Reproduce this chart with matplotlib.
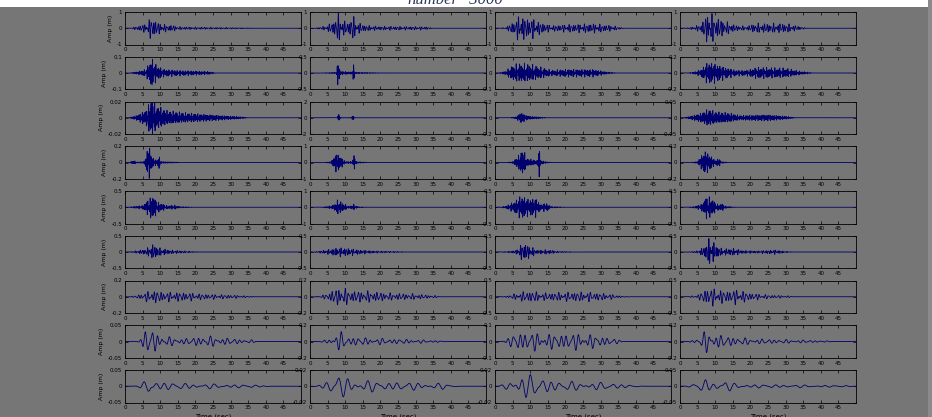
import numpy as np
import matplotlib
matplotlib.use("Agg")
import matplotlib.pyplot as plt
from matplotlib.patches import Rectangle

# y-axis half ranges (m), one row per station group, four components across
YLIMS = [
    [1, 1, 1, 1],
    [0.1, 0.5, 0.1, 0.2],
    [0.02, 2, 0.2, 0.05],
    [0.2, 1, 0.5, 0.2],
    [0.5, 1, 0.5, 0.5],
    [0.5, 0.5, 0.5, 0.5],
    [0.2, 0.2, 0.5, 0.5],
    [0.05, 0.2, 0.1, 0.2],
    [0.05, 0.02, 0.02, 0.05],
]
YTICK_TEXT = {1: "1", 0.5: "0.5", 0.2: "0.2", 0.1: "0.1", 0.05: "0.05",
              0.02: "0.02", 2: "2"}

# dominant frequency of each row (Hz)
ROW_FREQ = [1.6, 3.0, 4.0, 4.0, 3.0, 2.0, 1.1, 0.6, 0.35]

# envelope knots (time s, amplitude m) for each trace
ROW1_ENV = [
    [(1, 0), (3, 0.08), (6, 0.25), (7.5, 0.6), (9, 0.35), (11, 0.2), (14, 0.15), (15, 0.08), (25, 0.05), (35, 0.02), (38, 0)],
    [(1, 0), (4, 0.1), (6.5, 0.3), (8, 0.8), (9.5, 0.4), (11, 0.3), (12, 0.7), (13.5, 0.3), (16, 0.15), (20, 0.1), (25, 0.1), (33, 0.08), (35, 0)],
    [(1, 0), (3, 0.05), (5, 0.3), (7, 0.7), (9, 0.55), (11, 0.5), (13, 0.3), (16, 0.15), (20, 0.2), (28, 0.25), (33, 0.15), (37, 0)],
    [(1, 0), (3, 0.05), (6, 0.2), (8, 0.9), (10, 0.6), (13, 0.35), (16, 0.15), (19, 0.1), (21, 0.25), (30, 0.25), (34, 0.1), (36, 0)],
]
ROW2_ENV = [
    [(1, 0), (3, 0.005), (6, 0.02), (7.5, 0.08), (9, 0.04), (11, 0.02), (15, 0.015), (24, 0.008), (26, 0)],
    [(1, 0), (4, 0.005), (7.5, 0.02), (8, 0.4), (8.6, 0.05), (11.8, 0.03), (12.2, 0.3), (12.8, 0.02), (20, 0.005), (30, 0)],
    [(1, 0), (3, 0.01), (5, 0.04), (7, 0.05), (10, 0.045), (13, 0.03), (16, 0.015), (20, 0.02), (28, 0.02), (32, 0.005), (35, 0)],
    [(2, 0), (4, 0.01), (6, 0.04), (8, 0.12), (10, 0.1), (13, 0.06), (16, 0.03), (19, 0.03), (22, 0.06), (30, 0.05), (34, 0.02), (38, 0)],
]
ROW3_ENV = [
    [(1, 0), (3, 0.002), (6, 0.008), (7.5, 0.02), (9, 0.012), (12, 0.007), (17, 0.005), (25, 0.003), (33, 0.001), (35, 0)],
    [(5, 0), (7.8, 0.02), (8.1, 0.6), (8.6, 0.02), (11.8, 0.02), (12.1, 0.35), (12.6, 0.01), (15, 0)],
    [(4, 0), (6, 0.01), (7.5, 0.06), (8.5, 0.03), (10, 0.015), (12, 0.01), (15, 0)],
    [(1, 0), (3, 0.004), (6, 0.012), (8, 0.022), (10, 0.015), (14, 0.012), (17, 0.006), (25, 0.008), (30, 0.004), (33, 0)],
]
ROW4_ENV = [
    [(1, 0), (2.5, 0.02), (3.5, 0.005), (5.5, 0.01), (6.8, 0.18), (7.8, 0.05), (9.2, 0.02), (9.6, 0.08), (10.2, 0.01), (15, 0.003), (16, 0)],
    [(4, 0), (6, 0.05), (7.5, 0.5), (9, 0.25), (10, 0.05), (12, 0.05), (12.5, 0.4), (13.2, 0.05), (16, 0.01), (18, 0)],
    [(3, 0), (5, 0.02), (6.5, 0.15), (8, 0.35), (9, 0.1), (12, 0.05), (12.5, 0.45), (13, 0.05), (15, 0.01), (17, 0)],
    [(3, 0), (5, 0.01), (7, 0.12), (8.5, 0.08), (10, 0.02), (11, 0.05), (11.6, 0.01), (14, 0)],
]
ROW5_ENV = [
    [(1, 0), (3, 0.03), (5, 0.05), (6.5, 0.2), (8, 0.35), (9, 0.15), (10.5, 0.1), (12, 0.04), (14, 0.06), (15.5, 0.02), (19, 0.005), (20, 0)],
    [(2, 0), (4, 0.02), (6.5, 0.1), (8, 0.4), (9.5, 0.2), (11, 0.05), (12.5, 0.15), (13.5, 0.03), (17, 0)],
    [(1, 0), (3, 0.03), (5.5, 0.15), (7.5, 0.32), (9.5, 0.22), (11.5, 0.25), (13, 0.08), (14.5, 0.12), (16, 0.02), (19, 0.01), (20, 0)],
    [(2, 0), (4, 0.02), (6, 0.08), (7.5, 0.3), (9, 0.25), (10.5, 0.08), (12, 0.1), (13, 0.03), (16, 0)],
]
ROW6_ENV = [
    [(1, 0), (3, 0.03), (6, 0.08), (8, 0.2), (10, 0.1), (13, 0.05), (18, 0.02), (22, 0)],
    [(1, 0), (3, 0.03), (5, 0.06), (8, 0.12), (11, 0.1), (14, 0.06), (18, 0.03), (25, 0.015), (28, 0)],
    [(1, 0), (4, 0.02), (6, 0.05), (8, 0.25), (10, 0.15), (12, 0.05), (15, 0.06), (18, 0.02), (24, 0)],
    [(2, 0), (5, 0.03), (7, 0.15), (8.5, 0.38), (10, 0.2), (12, 0.08), (15, 0.1), (18, 0.04), (22, 0.03), (27, 0.06), (30, 0.02), (33, 0)],
]
ROW7_ENV = [
    [(1, 0), (3, 0.01), (6, 0.05), (8, 0.07), (11, 0.05), (16, 0.05), (22, 0.03), (30, 0.02), (36, 0.005), (38, 0)],
    [(1, 0), (4, 0.02), (7, 0.08), (9, 0.1), (12, 0.06), (17, 0.06), (22, 0.04), (30, 0.03), (36, 0.01), (38, 0)],
    [(1, 0), (4, 0.03), (7, 0.12), (10, 0.15), (14, 0.1), (20, 0.12), (26, 0.13), (32, 0.08), (36, 0.02), (38, 0)],
    [(2, 0), (5, 0.05), (8, 0.25), (10, 0.22), (13, 0.15), (16, 0.2), (20, 0.1), (25, 0.05), (30, 0.03), (33, 0)],
]
ROW8_ENV = [
    [(2, 0), (4, 0.004), (6, 0.032), (8, 0.032), (10, 0.016), (14, 0.01), (18, 0.008), (22, 0.015), (25, 0.013), (30, 0.008), (36, 0.004), (38, 0)],
    [(2, 0), (5, 0.02), (7, 0.08), (9, 0.1), (11, 0.05), (15, 0.04), (22, 0.03), (30, 0.02), (36, 0.01), (40, 0)],
    [(1, 0), (4, 0.02), (6, 0.05), (10, 0.05), (16, 0.04), (24, 0.045), (30, 0.03), (35, 0.01), (38, 0)],
    [(2, 0), (5, 0.03), (7.5, 0.12), (9, 0.1), (12, 0.06), (15, 0.05), (20, 0.03), (30, 0.02), (40, 0.01), (45, 0)],
]
ROW9_ENV = [
    [(2, 0), (4, 0.003), (6, 0.015), (7, 0.03), (9, 0.015), (12, 0.01), (16, 0.008), (25, 0.006), (35, 0.004), (40, 0.002), (42, 0)],
    [(1, 0), (3, 0.002), (6, 0.008), (8, 0.013), (10, 0.01), (14, 0.007), (20, 0.005), (30, 0.004), (38, 0.003), (42, 0)],
    [(1, 0), (3, 0.003), (5.5, 0.01), (7.5, 0.017), (10, 0.012), (14, 0.008), (20, 0.005), (30, 0.004), (38, 0.002), (42, 0)],
    [(1, 0), (3, 0.003), (6, 0.015), (7.5, 0.02), (9, 0.01), (12.5, 0.018), (15, 0.008), (20, 0.005), (30, 0.004), (40, 0.003), (45, 0.002), (49, 0.002)],
]
ENVS = [ROW1_ENV, ROW2_ENV, ROW3_ENV, ROW4_ENV, ROW5_ENV,
        ROW6_ENV, ROW7_ENV, ROW8_ENV, ROW9_ENV]

XTICKS = [0, 5, 10, 15, 20, 25, 30, 35, 40, 45]

BG = "#767676"
LINE = "#00006e"

t = np.arange(0, 50, 0.01)


def trace(knots, freq, k):
    kt = [p[0] for p in knots]
    ka = [p[1] for p in knots]
    env = np.interp(t, kt, ka, left=0, right=0)
    w = 2 * np.pi * freq * t
    carrier = (np.cos(w + k) + 0.7 * np.cos(1.43 * w + 1.3 + 2 * k)
               + 0.5 * np.cos(0.71 * w + 2.1 + 3 * k)) / 1.7
    return env * carrier


fig = plt.figure(figsize=(9.32, 4.17), dpi=100, facecolor=BG)
W, H = 932.0, 417.0

# white strip along the top holding the run label
fig.patches.append(Rectangle((0, 1 - 7 / H), 928 / W, 7 / H,
                             transform=fig.transFigure, facecolor="white",
                             edgecolor="none", zorder=0))
fig.text(455 / W, 1 - 4 / H, "number=3000", fontsize=12, style="italic",
         family="Liberation Serif", color="#2e3a58", ha="center",
         va="baseline")

lefts = [125, 310, 495, 680]
aw, ah = 176, 32.5
for r in range(9):
    top = 12 + r * 44.75
    for c in range(4):
        ax = fig.add_axes([lefts[c] / W, 1 - (top + ah) / H, aw / W, ah / H])
        ax.set_facecolor(BG)
        ax.plot(t, trace(ENVS[r][c], ROW_FREQ[r], r * 4 + c),
                color=LINE, lw=0.6)
        ylim = YLIMS[r][c]
        ax.set_xlim(0, 50)
        ax.set_ylim(-ylim, ylim)
        ax.set_xticks(XTICKS)
        ax.set_xticklabels([str(v) for v in XTICKS])
        ax.set_yticks([-ylim, 0, ylim])
        lab = YTICK_TEXT[ylim]
        ax.set_yticklabels(["-" + lab, "0", lab])
        ax.tick_params(direction="in", length=2, width=0.5, labelsize=4,
                       top=True, right=True, pad=2, colors="black")
        for s in ax.spines.values():
            s.set_linewidth(0.6)
            s.set_color("black")
        if c == 0:
            ax.set_ylabel("Amp (m)", fontsize=4.5, labelpad=3)
        if r == 8:
            ax.set_xlabel("Time (sec)", fontsize=5, labelpad=2)

# thin light strip at the right edge
fig.patches.append(Rectangle((928 / W, 0), 4 / W, 1,
                             transform=fig.transFigure, facecolor="#8a8a8a",
                             edgecolor="none", zorder=0))

fig.savefig("out.png", dpi=100, facecolor=BG)
